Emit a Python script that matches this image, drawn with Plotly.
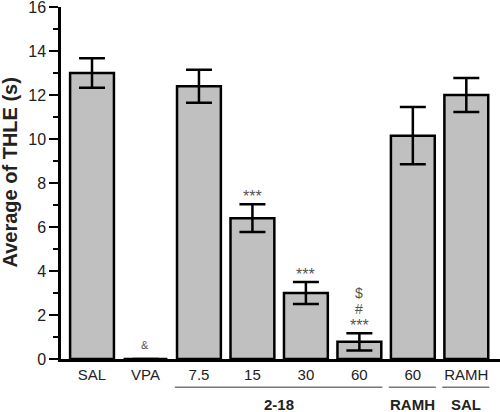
import plotly.graph_objects as go

labels = ["SAL", "VPA", "7.5", "15", "30", "60", "60", "RAMH"]
values = [13.0, 0.0, 12.4, 6.4, 3.0, 0.78, 10.15, 12.0]
errors = [0.67, 0.0, 0.75, 0.63, 0.5, 0.39, 1.3, 0.77]
marks = [[], ["&"], [], ["***"], ["***"], ["***", "#", "$"], [], []]
groups = [("2-18", 2, 5), ("RAMH", 6, 6), ("SAL", 7, 7)]
y_title = "Average of THLE (s)"

x = list(range(len(labels)))
stack_shift = [-3, 14, 30]

fig = go.Figure()
fig.add_trace(go.Bar(
    x=x, y=values, width=0.82,
    marker=dict(color="#c0c0c0", line=dict(color="black", width=2.5)),
    error_y=dict(type="data", array=errors, visible=True, color="black",
                 thickness=2.5, width=13),
    showlegend=False,
))

for xi, v, e, m in zip(x, values, errors, marks):
    if not m:
        continue
    if m == ["&"]:
        fig.add_annotation(x=xi, y=0, text="&", showarrow=False, yanchor="bottom",
                           yshift=6, font=dict(size=11, color="#555", family="Arial"))
        continue
    for i, t in enumerate(m):
        fig.add_annotation(x=xi, y=v + e, text=t, showarrow=False, yanchor="bottom",
                           yshift=stack_shift[i], font=dict(size=16 if t == "***" else 14,
                                                            color="#555", family="Arial"))

for name, a, b in groups:
    fig.add_shape(type="line", xref="x", yref="paper", x0=a - 0.45, x1=b + 0.43,
                  y0=-0.08, y1=-0.08, line=dict(color="#333", width=1))
    fig.add_annotation(x=(a + b) / 2, xref="x", yref="paper", y=-0.1, text="<b>%s</b>" % name,
                       showarrow=False, yanchor="top",
                       font=dict(size=15, color="#222", family="Arial"))

fig.add_annotation(xref="paper", yref="paper", x=-0.116, y=0.53, text="<b>%s</b>" % y_title,
                   textangle=-90, showarrow=False, xanchor="center", yanchor="middle",
                   font=dict(size=20, color="#222", family="Arial"))

fig.update_layout(
    width=500, height=412,
    margin=dict(l=61, r=0, t=7, b=53),
    plot_bgcolor="white", paper_bgcolor="white",
    font=dict(family="Arial", size=14, color="#222"),
    bargap=0.18,
)
fig.update_xaxes(
    range=[-0.58, 7.63], tickvals=x, ticktext=labels, showgrid=False,
    showline=True, linecolor="black", linewidth=2.5, ticks="", zeroline=False,
    tickfont=dict(size=15, color="#222"),
)
fig.update_yaxes(
    range=[0, 16], tickvals=[0, 2, 4, 6, 8, 10, 12, 14, 16], showgrid=False,
    showline=True, linecolor="black", linewidth=2.5, ticks="outside", ticklen=9,
    tickwidth=2, tickcolor="black", zeroline=False, ticklabeloverflow="allow",
    minor=dict(tickvals=[1, 3, 5, 7, 9, 11, 13, 15], ticks="outside", ticklen=5,
               tickwidth=2, tickcolor="black"),
    tickfont=dict(size=16, color="#222"),
)

fig.write_html("out.html", config={"displayModeBar": False},
               post_script="document.body.style.margin='0';document.body.style.overflow='hidden';")
